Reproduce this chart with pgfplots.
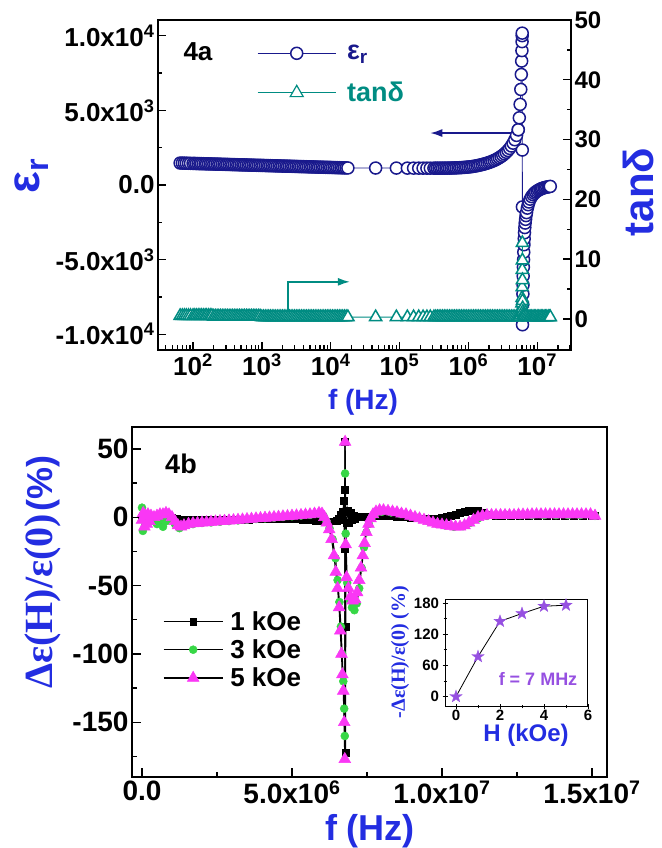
\documentclass[border=0pt]{standalone}
\usepackage{fontspec}
\setmainfont{Liberation Sans}
\newfontfamily\seriff{Liberation Serif}
\usepackage{pgfplots}
\usepackage{pgfplotstable}
\pgfplotsset{compat=1.18}
\usetikzlibrary{arrows.meta}
\newcommand{\fs}[1]{\fontsize{#1}{#1}\selectfont}
\definecolor{navyc}{RGB}{25,25,140}
\definecolor{tealc}{RGB}{0,140,130}
\definecolor{labblue}{RGB}{35,45,225}
\definecolor{pinkc}{RGB}{250,55,245}
\definecolor{greenc}{RGB}{55,215,70}
\definecolor{purplec}{RGB}{150,80,225}

\pgfdeclareplotmark{fstar}{%
  \pgfpathmoveto{\pgfpointpolar{90}{\pgfplotmarksize}}%
  \pgfpathlineto{\pgfpointpolar{126}{0.4\pgfplotmarksize}}%
  \pgfpathlineto{\pgfpointpolar{162}{\pgfplotmarksize}}%
  \pgfpathlineto{\pgfpointpolar{198}{0.4\pgfplotmarksize}}%
  \pgfpathlineto{\pgfpointpolar{234}{\pgfplotmarksize}}%
  \pgfpathlineto{\pgfpointpolar{270}{0.4\pgfplotmarksize}}%
  \pgfpathlineto{\pgfpointpolar{306}{\pgfplotmarksize}}%
  \pgfpathlineto{\pgfpointpolar{342}{0.4\pgfplotmarksize}}%
  \pgfpathlineto{\pgfpointpolar{18}{\pgfplotmarksize}}%
  \pgfpathlineto{\pgfpointpolar{54}{0.4\pgfplotmarksize}}%
  \pgfpathclose
  \pgfusepathqfillstroke
}

% eps_r and tan delta, two sweeps
\pgfplotstableread{
f e t
65 1470 0.5
70 1466 0.5
75 1462 0.5
80 1458 0.5
86 1454 0.5
92 1450 0.5
100 1445 0.5
106 1442 0.5
112 1438 0.5
119 1435 0.5
126 1431 0.5
133 1428 0.5
141 1425 0.5
150 1421 0.5
158 1418 0.5
168 1414 0.5
178 1411 0.5
188 1408 0.5
200 1404 0.4
211 1401 0.4
224 1397 0.4
237 1394 0.4
251 1391 0.4
266 1387 0.4
282 1384 0.4
299 1380 0.4
316 1377 0.4
335 1374 0.4
355 1370 0.4
376 1367 0.4
398 1364 0.4
422 1360 0.4
447 1357 0.4
473 1353 0.4
501 1350 0.4
531 1347 0.4
562 1343 0.4
596 1340 0.4
631 1336 0.4
668 1333 0.4
708 1330 0.4
750 1326 0.4
794 1323 0.4
841 1320 0.4
891 1316 0.4
944 1313 0.4
1000 1310 0.3
1059 1307 0.3
1122 1303 0.3
1189 1300 0.3
1259 1296 0.3
1334 1293 0.3
1413 1290 0.3
1496 1286 0.3
1585 1283 0.3
1679 1279 0.3
1778 1276 0.3
1884 1273 0.3
1995 1269 0.3
2113 1266 0.3
2239 1263 0.3
2371 1259 0.3
2512 1256 0.3
2661 1252 0.3
2818 1249 0.3
2985 1246 0.3
3162 1242 0.3
3350 1239 0.3
3548 1235 0.3
3758 1232 0.3
3981 1229 0.3
4217 1225 0.3
4467 1222 0.3
4732 1218 0.3
5012 1215 0.3
5309 1212 0.3
5623 1208 0.3
5957 1205 0.3
6310 1201 0.3
6683 1198 0.3
7079 1195 0.3
7499 1191 0.3
7943 1188 0.3
8414 1184 0.3
8913 1181 0.3
9441 1178 0.3
10000 1175 0.3
10593 1171 0.3
11220 1168 0.3
11885 1165 0.3
12589 1161 0.3
13335 1158 0.3
14125 1154 0.3
14962 1151 0.3
15849 1148 0.3
16788 1144 0.3
17783 1141 0.3
45000 1135 0.3
90000 1132 0.3
130000 1130 0.3
160000 1129 0.3
190000 1128 0.3
220000 1127 0.3
250000 1127 0.3
280000 1126 0.3
316000 1126 0.3
335000 1126 0.3
355000 1126 0.3
376000 1127 0.3
398000 1127 0.3
422000 1128 0.3
447000 1129 0.3
473000 1130 0.3
501000 1132 0.3
531000 1134 0.3
562000 1137 0.3
596000 1140 0.3
631000 1144 0.3
668000 1148 0.3
708000 1153 0.3
750000 1159 0.3
794000 1166 0.3
841000 1174 0.3
891000 1183 0.3
944000 1193 0.3
1000000 1205 0.3
1059000 1218 0.3
1122000 1233 0.3
1189000 1250 0.3
1259000 1270 0.3
1334000 1292 0.3
1413000 1316 0.3
1496000 1342 0.3
1585000 1370 0.3
1679000 1400 0.3
1778000 1433 0.3
1884000 1468 0.3
1995000 1506 0.3
2113000 1548 0.3
2239000 1594 0.3
2371000 1644 0.3
2512000 1700 0.3
2661000 1762 0.3
2818000 1830 0.3
2985000 1906 0.3
3162000 1990 0.3
3350000 2085 0.3
3548000 2190 0.3
3758000 2310 0.3
3981000 2450 0.3
4217000 2610 0.3
4467000 2800 0.3
4732000 3030 0.3
5012000 3320 0.3
5309000 3700 0.3
}\tabA

% eps_r through the resonance and negative branch
\pgfplotstableread{
f e
5309000 3700
5500000 4500
5650000 5400
5780000 6400
5880000 7400
5950000 8300
6000000 9000
6030000 9600
6050000 10000
6060000 10170
6080000 2340
6100000 -1470
6120000 -9360
6140000 -8700
6170000 -8000
6200000 -7300
6230000 -6700
6260000 -6100
6300000 -5500
6340000 -5000
6380000 -4500
6430000 -4000
6480000 -3600
6540000 -3200
6610000 -2850
6690000 -2550
6780000 -2300
6880000 -2050
7000000 -1850
7200000 -1550
7400000 -1320
7600000 -1140
7900000 -950
8300000 -780
8700000 -650
9100000 -550
9500000 -470
10000000 -400
10500000 -340
11000000 -290
11500000 -250
12000000 -215
12600000 -185
13200000 -160
13800000 -140
14500000 -120
15100000 -105
15500000 -95
}\tabB

% tan delta through the resonance
\pgfplotstableread{
f t
5309000 0.3
5500000 0.4
5700000 0.6
5850000 1.0
5950000 1.8
6000000 2.6
6030000 3.5
6050000 5.3
6070000 8.2
6090000 12.7
6100000 9.8
6110000 6.5
6120000 3.0
6150000 1.8
6200000 1.2
6300000 0.8
6450000 0.6
6600000 0.5
6900000 0.4
7200000 0.3
7600000 0.3
7900000 0.3
8300000 0.3
8700000 0.3
9100000 0.3
9500000 0.3
10000000 0.3
10500000 0.3
11000000 0.3
11500000 0.3
12000000 0.3
12600000 0.3
13200000 0.3
13800000 0.3
14500000 0.3
15100000 0.3
15500000 0.3
}\tabC

% 1 kOe  (f in MHz)
\pgfplotstableread{
x y
0.00 0
0.10 1
0.20 0
0.30 0
0.40 0.5
0.50 0.5
0.60 0.5
0.70 1
0.80 0.5
0.90 0
1.00 -0.5
1.15 -1
1.30 -1.5
1.45 -2
1.60 -2
1.75 -2
1.90 -2
2.05 -2
2.20 -2
2.35 -2
2.50 -2
2.65 -2
2.80 -1.9
2.95 -1.8
3.10 -1.7
3.25 -1.7
3.40 -1.6
3.55 -1.6
3.70 -1.5
3.85 -1.5
4.00 -1.4
4.15 -1.4
4.30 -1.3
4.45 -1.3
4.60 -1.2
4.75 -1.2
4.90 -1.2
5.05 -1.2
5.20 -1.4
5.35 -1.6
5.50 -1.8
5.65 -2
5.80 -2.3
5.95 -2.6
6.10 -3
6.25 -3
6.40 -3
6.50 -2.5
6.56 -1
6.62 2
6.66 -2
6.70 4
6.73 12
6.75 -23
6.76 20
6.77 55
6.78 -172
6.79 -80
6.81 -4
6.85 5
6.90 -4
6.95 3
7.00 -2
7.05 1
7.10 -1
7.20 0.5
7.30 0
7.45 0.5
7.60 0.5
7.75 1
7.90 1
8.05 1
8.20 1
8.35 0.8
8.50 0.5
8.65 0.2
8.80 0
8.95 -0.3
9.10 -0.5
9.25 -0.8
9.40 -1
9.55 -1
9.70 -1
9.85 -0.8
10.00 -0.5
10.15 0.3
10.30 1
10.45 2
10.60 3
10.75 4
10.90 4.5
11.05 4.8
11.20 4.5
11.35 3.5
11.50 2
11.65 1.5
11.80 1
12.00 1
12.30 1
12.60 1
12.90 1
13.20 1
13.50 1
13.80 1
14.10 1
14.40 1
14.70 1
15.00 1
15.10 1
}\tabK

% 3 kOe
\pgfplotstableread{
x y
0.00 7
0.03 -10
0.06 3
0.10 -6
0.20 1
0.30 -2
0.40 -3
0.50 -5
0.60 -2
0.70 -7
0.80 -3
0.95 -1
1.10 -5
1.25 -8
1.40 -6
1.70 -5
2.00 -4.2
2.30 -3.8
2.60 -3.3
2.90 -2.8
3.20 -2.3
3.50 -1.8
3.80 -1.3
4.10 -0.8
4.40 -0.3
4.70 0.2
5.00 0.7
5.30 1.2
5.60 1.7
5.90 2.5
6.05 1
6.15 -3
6.25 -8
6.35 -16
6.45 -30
6.52 -46
6.58 -62
6.63 -80
6.67 -100
6.71 -120
6.74 -140
6.76 -160
6.77 32
6.79 -12
6.84 -48
6.92 -60
7.00 -66
7.08 -68
7.16 -63
7.24 -52
7.32 -37
7.40 -22
7.48 -11
7.56 -5
7.66 0
7.80 3
8.00 4
8.30 3.5
8.60 2.5
8.90 1
9.20 -0.5
9.50 -2.5
9.80 -4.5
10.10 -6
10.40 -7
10.70 -6.5
10.95 -4
11.20 -1
11.50 1
11.80 1.5
12.20 1.5
12.60 1.5
13.00 1.5
13.40 1.5
13.80 1.5
14.20 1.5
14.60 1.5
15.00 1.5
15.10 1
}\tabG

% 5 kOe
\pgfplotstableread{
x y
0.00 -2
0.04 3
0.08 -7
0.12 1
0.16 -5
0.20 2
0.25 -3
0.30 1
0.40 0
0.50 1
0.60 2
0.70 2
0.80 3
0.90 2
1.00 0
1.10 -3
1.20 -6
1.30 -7
1.40 -6
1.55 -5
1.70 -4.5
1.85 -4.3
2.00 -4
2.15 -3.8
2.30 -3.5
2.45 -3.3
2.60 -3
2.75 -2.8
2.90 -2.5
3.05 -2.3
3.20 -2
3.35 -1.8
3.50 -1.5
3.65 -1.3
3.80 -1
3.95 -0.8
4.10 -0.5
4.25 -0.3
4.40 0
4.55 0.2
4.70 0.5
4.85 0.7
5.00 1
5.15 1.2
5.30 1.5
5.45 1.8
5.60 2
5.75 2.5
5.90 3
6.00 2.5
6.08 0
6.16 -4
6.24 -9
6.32 -16
6.40 -28
6.46 -40
6.52 -52
6.57 -66
6.61 -83
6.65 -100
6.68 -115
6.71 -127
6.74 -150
6.76 -177
6.77 55
6.79 -20
6.82 -44
6.88 -52
6.95 -58
7.02 -61
7.10 -60
7.17 -55
7.24 -46
7.30 -37
7.36 -28
7.42 -19
7.48 -11
7.55 -5
7.62 -1
7.70 2
7.80 4
7.92 5
8.05 5
8.20 4.5
8.35 4
8.50 3.5
8.65 2.5
8.80 2
8.95 1
9.10 0
9.25 -1
9.40 -2
9.55 -3
9.70 -4
9.85 -5
10.00 -5.5
10.15 -6
10.30 -6.5
10.45 -7
10.60 -7
10.75 -6
10.90 -4
11.05 -2
11.20 0
11.35 1
11.50 1.5
11.65 1.5
11.80 1.5
11.95 1.5
12.10 1.5
12.25 1.5
12.40 1.5
12.55 1.8
12.70 1.8
12.85 1.8
13.00 2
13.15 2
13.30 2
13.45 2
13.60 2
13.75 2
13.90 2
14.05 2
14.20 2
14.35 2
14.50 2
14.65 2
14.80 2
14.95 2
15.10 1
}\tabP

% inset
\pgfplotstableread{
H d
0 0
1 77
2 145
3 160
4 174
5 176
}\tabI

\begin{document}
\begin{tikzpicture}
\useasboundingbox (0,0) rectangle (661pt,848pt);

% ---------------- panel 4a : eps_r (left axis)
\begin{axis}[
  at={(158pt,498pt)}, anchor=south west,
  scale only axis, width=413pt, height=330pt,
  xmode=log, xmin=31, xmax=3.1e7,
  ymin=-11050, ymax=11050,
  scaled y ticks=false,
  xtick={1e2,1e3,1e4,1e5,1e6,1e7},
  xticklabels={10\textsuperscript{2},10\textsuperscript{3},10\textsuperscript{4},10\textsuperscript{5},10\textsuperscript{6},10\textsuperscript{7}},
  minor xtick={40,50,60,70,80,90,200,300,400,500,600,700,800,900,2000,3000,4000,5000,6000,7000,8000,9000,2e4,3e4,4e4,5e4,6e4,7e4,8e4,9e4,2e5,3e5,4e5,5e5,6e5,7e5,8e5,9e5,2e6,3e6,4e6,5e6,6e6,7e6,8e6,9e6,2e7,3e7},
  ytick={-10000,-5000,0,5000,10000},
  yticklabels={-1.0x10\textsuperscript{4},-5.0x10\textsuperscript{3},0.0,5.0x10\textsuperscript{3},1.0x10\textsuperscript{4}},
  minor ytick={-7500,-2500,2500,7500},
  xtick pos=bottom, ytick pos=left,
  tick align=inside,
  major tick length=8pt, minor tick length=4.5pt,
  tick style={black, line width=1.3pt},
  axis line style={line width=1.6pt},
  tick label style={font=\fs{26}\bfseries},
  legend cell align=left,
  legend style={at={(0.24,0.93)}, anchor=north west, draw=none, fill=none,
    font=\fs{27}\bfseries, row sep=17pt, inner sep=0pt,
    /tikz/every odd column/.append style={column sep=9pt}},
  legend image code/.code={\draw[mark repeat=2,mark phase=2,#1] plot coordinates {(0pt,0pt) (39pt,0pt) (78pt,0pt)};},
]
\addplot[navyc, line width=0.8pt, mark=*, mark size=6pt,
  mark options={fill=white, draw=navyc, line width=1.5pt}] table[x=f,y=e] {\tabA};
\addlegendentry{\textcolor{navyc}{ε\textsubscript{r}}}
\addplot[navyc, line width=0.8pt, mark=*, mark size=6pt,
  mark options={fill=white, draw=navyc, line width=1.5pt}, forget plot] table[x=f,y=e] {\tabB};
\addlegendimage{tealc, line width=0.8pt, mark=triangle*, mark size=7.5pt,
  mark options={fill=white, draw=tealc, line width=1.2pt}}
\addlegendentry{\textcolor{tealc}{tanδ}}
\draw[navyc, line width=1.5pt, -{Latex[length=12pt,width=8pt]}]
  (axis cs:4.1e6,3480) -- (axis cs:2.8e5,3480);
\end{axis}

% ---------------- panel 4a : tan delta (right axis)
\begin{axis}[
  at={(158pt,498pt)}, anchor=south west,
  scale only axis, width=413pt, height=330pt,
  xmode=log, xmin=31, xmax=3.1e7,
  ymin=-5.2, ymax=50,
  axis x line=none, axis y line*=right,
  ytick={0,10,20,30,40,50},
  yticklabels={0,10,20,30,40,50},
  minor ytick={5,15,25,35,45},
  tick align=inside,
  major tick length=8pt, minor tick length=4.5pt,
  tick style={black, line width=1.3pt},
  axis line style={line width=1.6pt},
  tick label style={font=\fs{24}\bfseries},
]
\addplot[tealc, line width=0.8pt, mark=triangle*, mark size=7pt,
  mark options={fill=white, draw=tealc, line width=1.5pt}] table[x=f,y=t] {\tabA};
\addplot[tealc, line width=0.8pt, mark=triangle*, mark size=7pt,
  mark options={fill=white, draw=tealc, line width=1.5pt}] table[x=f,y=t] {\tabC};
\draw[tealc, line width=1.5pt, -{Latex[length=12pt,width=8pt]}]
  (axis cs:2.4e3,1.0) -- (axis cs:2.4e3,6.2) -- (axis cs:1.9e4,6.2);
\end{axis}

\node[font=\fs{26}\bfseries, black] at (198pt,796pt) {4a};
\node[font=\fs{28}\bfseries, labblue] at (363pt,446pt) {f (Hz)};
\node[rotate=90, font=\fs{46}\bfseries, labblue] at (32pt,672pt) {ε\textsubscript{r}};
\node[rotate=90, font=\fs{42}\bfseries, labblue] at (638pt,656pt) {tanδ};

% ---------------- panel 4b
\begin{axis}[
  at={(132pt,71pt)}, anchor=south west,
  scale only axis, width=475pt, height=350pt,
  xmin=-0.333, xmax=15.5, ymin=-190, ymax=66,
  xtick={0,5,10,15},
  xticklabels={0.0,5.0x10\textsuperscript{6},1.0x10\textsuperscript{7},1.5x10\textsuperscript{7}},
  minor xtick={2.5,7.5,12.5},
  ytick={-150,-100,-50,0,50},
  yticklabels={-150,-100,-50,0,50},
  minor ytick={-175,-125,-75,-25,25},
  xtick pos=bottom, ytick pos=left,
  tick align=inside,
  major tick length=9pt, minor tick length=5pt,
  tick style={black, line width=1.3pt},
  axis line style={line width=1.6pt},
  tick label style={font=\fs{28}\bfseries},
  legend cell align=left,
  legend style={at={(0.065,0.48)}, anchor=north west, draw=none, fill=none,
    font=\fs{26}\bfseries, row sep=4pt, inner sep=0pt,
    /tikz/every odd column/.append style={column sep=5pt}},
  legend image code/.code={\draw[mark repeat=2,mark phase=2,#1] plot coordinates {(0pt,0pt) (29.5pt,0pt) (59pt,0pt)};},
]
\addplot[black, line width=1.2pt, mark=square*, mark size=3.4pt,
  mark options={fill=black, draw=black, line width=0.5pt}] table[x=x,y=y] {\tabK};
\addlegendentry{1 kOe}
\addplot[black, line width=1.2pt, mark=*, mark size=4pt,
  mark options={fill=greenc, draw=greenc, line width=0.5pt}] table[x=x,y=y] {\tabG};
\addlegendentry{3 kOe}
\addplot[black, line width=1.2pt, mark=triangle*, mark size=6.8pt,
  mark options={fill=pinkc, draw=pinkc, line width=0.5pt}] table[x=x,y=y] {\tabP};
\addlegendentry{5 kOe}
\end{axis}

\node[font=\fs{27}\bfseries, black] at (181pt,384pt) {4b};
\node[font=\fs{36}\bfseries, labblue] at (370pt,17pt) {f (Hz)};
\node[rotate=90, labblue] at (43pt,276pt)
  {{\seriff\bfseries\fs{40}Δε(H)/ε(0)} {\bfseries\fs{36}(\%)}};

% ---------------- inset
\begin{axis}[
  at={(445pt,141pt)}, anchor=south west,
  scale only axis, width=143pt, height=107pt,
  xmin=-0.5, xmax=6, ymin=-20, ymax=186,
  xtick={0,2,4,6}, xticklabels={0,2,4,6},
  minor xtick={1,3,5},
  ytick={0,60,120,180}, yticklabels={0,60,120,180},
  minor ytick={30,90,150},
  xtick pos=bottom, ytick pos=left,
  tick align=center,
  major tick length=5pt, minor tick length=3pt,
  tick style={black, line width=0.8pt},
  axis line style={line width=1pt},
  tick label style={font=\fs{15}\bfseries},
  xticklabel style={yshift=3pt},
]
\addplot[black, line width=0.8pt, mark=fstar, mark size=6.5pt,
  mark options={fill=purplec, draw=purplec, line width=0.3pt}] table[x=H,y=d] {\tabI};
\end{axis}
\node[font=\fs{18}\bfseries, purplec] at (538pt,169pt) {f = 7 MHz};
\node[font=\fs{24}\bfseries, labblue] at (526pt,113pt) {H (kOe)};
\node[rotate=90, labblue] at (400pt,196pt)
  {{\seriff\bfseries\fs{20}-Δε(H)/ε(0) (\%)}};

\end{tikzpicture}
\end{document}
